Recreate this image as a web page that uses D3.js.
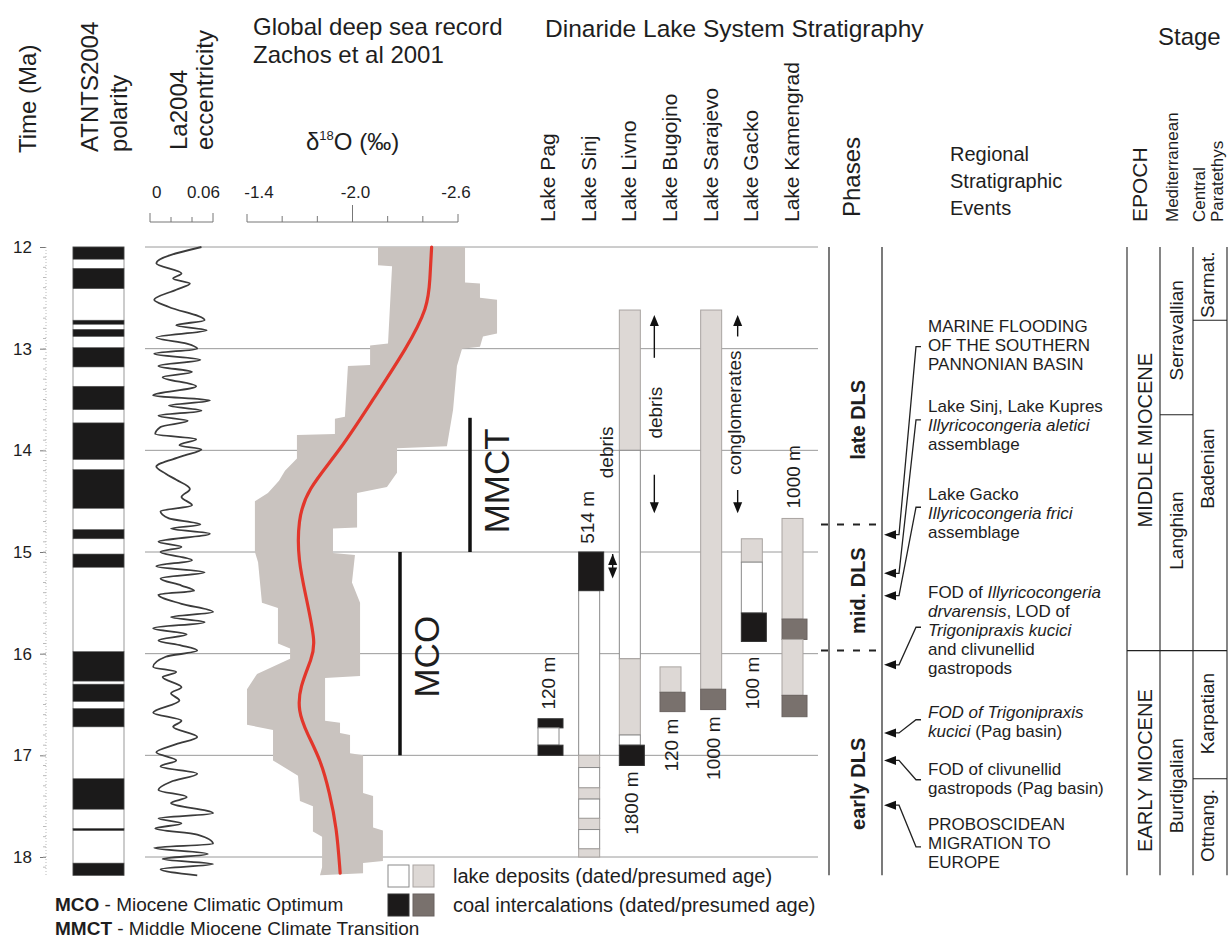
<!DOCTYPE html>
<html lang="en">
<head>
<meta charset="UTF-8">
<title>Dinaride Lake System stratigraphy</title>
<script src="https://cdnjs.cloudflare.com/ajax/libs/d3/7.8.5/d3.min.js"></script>
<style>
  body { margin: 0; background: #fff; }
  svg text { font-family: "Liberation Sans", Arial, sans-serif; fill: #1e1e1e; }
</style>
</head>
<body>
<div id="chart"></div>
<script>
// ---- data ----
const ageTicks = [12, 13, 14, 15, 16, 17, 18];

// normal polarity chrons (Ma)
const normalChrons = [
  [12.00, 12.12], [12.21, 12.41], [12.72, 12.76], [12.81, 12.88], [12.99, 13.18],
  [13.37, 13.60], [13.73, 14.09], [14.19, 14.57], [14.78, 14.87], [15.02, 15.15],
  [15.98, 16.27], [16.30, 16.47], [16.54, 16.72], [17.23, 17.53], [17.72, 17.74],
  [18.06, 18.18]
];

// La2004 eccentricity (age, ecc)
const eccentricity = [
  [12.00, 0.049], [12.16, 0.006], [12.26, 0.030], [12.31, 0.022], [12.36, 0.038], [12.42, 0.025],
  [12.52, 0.004], [12.59, 0.018], [12.72, 0.052], [12.77, 0.025], [12.82, 0.054], [12.89, 0.006],
  [12.95, 0.035], [13.00, 0.045], [13.05, 0.004], [13.11, 0.048], [13.17, 0.008], [13.23, 0.040],
  [13.28, 0.012], [13.37, 0.044], [13.46, 0.003], [13.51, 0.057], [13.56, 0.018], [13.61, 0.049],
  [13.66, 0.008], [13.71, 0.036], [13.77, 0.010], [13.84, 0.005], [13.89, 0.044], [13.95, 0.028],
  [13.99, 0.049], [14.06, 0.030], [14.16, 0.006], [14.23, 0.015], [14.29, 0.025], [14.38, 0.038],
  [14.46, 0.030], [14.54, 0.040], [14.60, 0.010], [14.67, 0.018], [14.73, 0.048], [14.77, 0.020],
  [14.82, 0.057], [14.90, 0.008], [14.95, 0.030], [15.00, 0.010], [15.08, 0.040], [15.14, 0.006],
  [15.20, 0.052], [15.26, 0.010], [15.33, 0.030], [15.38, 0.042], [15.42, 0.008], [15.51, 0.030],
  [15.59, 0.060], [15.64, 0.020], [15.69, 0.052], [15.75, 0.003], [15.81, 0.035], [15.87, 0.008],
  [15.92, 0.030], [15.97, 0.045], [16.03, 0.015], [16.13, 0.003], [16.18, 0.025], [16.23, 0.012],
  [16.33, 0.030], [16.39, 0.020], [16.46, 0.028], [16.58, 0.003], [16.66, 0.030], [16.72, 0.022],
  [16.82, 0.045], [16.89, 0.025], [16.97, 0.006], [17.05, 0.025], [17.11, 0.010], [17.18, 0.045],
  [17.26, 0.020], [17.34, 0.008], [17.41, 0.035], [17.47, 0.020], [17.57, 0.060], [17.62, 0.008],
  [17.67, 0.030], [17.72, 0.005], [17.78, 0.045], [17.87, 0.060], [17.91, 0.004], [17.97, 0.055],
  [18.02, 0.012], [18.07, 0.060], [18.12, 0.010], [18.18, 0.045]
];
const eccTicks = [0, 0.02, 0.04, 0.06];

// Zachos et al 2001 d18O
const d18OTicks = [-1.4, -1.6, -1.8, -2.0, -2.2, -2.4, -2.6];
const d18OTickLabels = ["-1.4", "-2.0", "-2.6"];
const d18OMean = [
  [12.00, -2.45], [12.32, -2.44], [12.59, -2.43], [12.99, -2.31], [13.49, -2.12], [14.00, -1.93],
  [14.39, -1.74], [14.69, -1.69], [15.08, -1.69], [15.47, -1.74], [15.90, -1.79], [16.04, -1.77],
  [16.33, -1.70], [16.56, -1.69], [16.78, -1.74], [17.05, -1.82], [17.37, -1.87], [17.71, -1.91],
  [18.16, -1.93]
];
const d18OEnvLeft = [
  [12.00, -2.145], [12.18, -2.145], [12.19, -2.225], [12.95, -2.202], [12.97, -2.100], [13.16, -2.100],
  [13.17, -1.974], [13.67, -1.957], [13.69, -1.900], [13.84, -1.900], [13.85, -1.684], [14.08, -1.684],
  [14.20, -1.616], [14.30, -1.582], [14.42, -1.519], [14.50, -1.445], [15.00, -1.445], [15.10, -1.463],
  [15.50, -1.485], [15.55, -1.576], [15.90, -1.576], [15.95, -1.645], [16.05, -1.645], [16.20, -1.457],
  [16.35, -1.400], [16.70, -1.400], [16.75, -1.548], [17.05, -1.548], [17.20, -1.690], [17.45, -1.701],
  [17.50, -1.775], [17.75, -1.775], [17.80, -1.827], [18.10, -1.827], [18.18, -1.815]
];
const d18OEnvRight = [
  [12.00, -2.640], [12.35, -2.640], [12.36, -2.725], [12.50, -2.725], [12.52, -2.822], [12.85, -2.822],
  [12.88, -2.742], [12.98, -2.725], [13.00, -2.623], [13.17, -2.594], [13.60, -2.572], [13.96, -2.537],
  [13.98, -2.253], [14.22, -2.253], [14.36, -2.196], [14.42, -2.026], [14.76, -2.026], [14.77, -1.889],
  [15.01, -1.889], [15.03, -2.014], [15.30, -1.997], [15.50, -2.043], [16.22, -2.043], [16.24, -1.844],
  [16.66, -1.844], [16.68, -1.929], [16.78, -1.929], [16.80, -1.986], [16.98, -1.986], [17.00, -2.060],
  [17.37, -2.060], [17.40, -2.117], [17.71, -2.117], [17.74, -2.173], [18.04, -2.173], [18.06, -2.060],
  [18.16, -2.060]
];
const climateEvents = [
  { name: "MMCT", from: 13.68, to: 15.0, labelAge: 14.3 },
  { name: "MCO", from: 15.0, to: 17.0, labelAge: 16.03 }
];

// Dinaride lakes
const lakes = ["Lake Pag", "Lake Sinj", "Lake Livno", "Lake Bugojno", "Lake Sarajevo", "Lake Gacko", "Lake Kamengrad"];
// type: dated / presumed lake deposits, coal / coalP (dated / presumed coal)
const lakeSegments = [
  ["Lake Pag", 16.64, 16.73, "coal"], ["Lake Pag", 16.73, 16.90, "dated"], ["Lake Pag", 16.90, 17.00, "coal"],
  ["Lake Sinj", 15.38, 17.00, "dated"], ["Lake Sinj", 17.00, 17.12, "presumed"], ["Lake Sinj", 17.12, 17.32, "dated"],
  ["Lake Sinj", 17.32, 17.43, "presumed"], ["Lake Sinj", 17.43, 17.62, "dated"], ["Lake Sinj", 17.62, 17.73, "presumed"],
  ["Lake Sinj", 17.73, 17.92, "dated"], ["Lake Sinj", 17.92, 18.00, "presumed"], ["Lake Sinj", 15.00, 15.38, "coal"],
  ["Lake Livno", 12.62, 14.00, "presumed"], ["Lake Livno", 14.00, 16.05, "dated"], ["Lake Livno", 16.05, 16.80, "presumed"],
  ["Lake Livno", 16.80, 16.90, "dated"], ["Lake Livno", 16.90, 17.10, "coal"],
  ["Lake Bugojno", 16.13, 16.38, "presumed"], ["Lake Bugojno", 16.38, 16.57, "coalP"],
  ["Lake Sarajevo", 12.62, 16.35, "presumed"], ["Lake Sarajevo", 16.35, 16.55, "coalP"],
  ["Lake Gacko", 14.87, 15.10, "presumed"], ["Lake Gacko", 15.10, 15.60, "dated"], ["Lake Gacko", 15.60, 15.88, "coal"],
  ["Lake Kamengrad", 14.67, 15.66, "presumed"], ["Lake Kamengrad", 15.66, 15.86, "coalP"],
  ["Lake Kamengrad", 15.86, 16.41, "presumed"], ["Lake Kamengrad", 16.41, 16.62, "coalP"]
];
const lakeNotes = [
  ["Lake Pag", "120 m", 16.29], ["Lake Sinj", "514 m", 14.66], ["Lake Sinj", "debris", 14.02],
  ["Lake Livno", "1800 m", 17.47], ["Lake Livno", "debris", 13.63], ["Lake Bugojno", "120 m", 16.90],
  ["Lake Sarajevo", "1000 m", 16.93], ["Lake Sarajevo", "conglomerates", 13.63],
  ["Lake Gacko", "100 m", 16.29], ["Lake Kamengrad", "1000 m", 14.26]
];
const lakeArrows = [
  ["Lake Livno", 13.09, 12.67], ["Lake Livno", 14.24, 14.62],
  ["Lake Sarajevo", 12.88, 12.67], ["Lake Sarajevo", 14.39, 14.62]
];

// phases and events
const phases = [
  { name: "late DLS", from: 12.0, to: 14.73, labelAge: 13.70 },
  { name: "mid. DLS", from: 14.73, to: 15.97, labelAge: 15.38 },
  { name: "early DLS", from: 15.97, to: 18.18, labelAge: 17.28 }
];
const events = [
  { age: 14.83, tick: 12.98, textAge: 12.84, lines: [[["MARINE FLOODING"]], [["OF THE SOUTHERN"]], [["PANNONIAN BASIN"]]] },
  { age: 15.21, tick: 13.70, textAge: 13.62, lines: [[["Lake Sinj, Lake Kupres"]], [["Illyricocongeria aletici", 1]], [["assemblage"]]] },
  { age: 15.43, tick: 14.56, textAge: 14.49, lines: [[["Lake Gacko"]], [["Illyricocongeria frici", 1]], [["assemblage"]]] },
  { age: 16.11, tick: 15.74, textAge: 15.45, lines: [[["FOD of "], ["Illyricocongeria", 1]], [["drvarensis", 1], [", LOD of"]], [["Trigonipraxis kucici", 1]], [["and clivunellid"]], [["gastropods"]]] },
  { age: 16.78, tick: 16.65, textAge: 16.63, lines: [[["FOD of Trigonipraxis", 1]], [["kucici", 1], [" (Pag basin)"]]] },
  { age: 17.05, tick: 17.24, textAge: 17.19, lines: [[["FOD of clivunellid"]], [["gastropods (Pag basin)"]]] },
  { age: 17.49, tick: 17.90, textAge: 17.73, lines: [[["PROBOSCIDEAN"]], [["MIGRATION TO"]], [["EUROPE"]]] }
];

// stages
const epochs = [
  { name: "MIDDLE MIOCENE", from: 12.0, to: 15.97, labelAge: 13.90 },
  { name: "EARLY MIOCENE", from: 15.97, to: 18.18, labelAge: 17.15 }
];
const medStages = [
  { name: "Serravallian", from: 12.0, to: 13.65, labelAge: 12.82 },
  { name: "Langhian", from: 13.65, to: 15.97, labelAge: 14.79 },
  { name: "Burdigalian", from: 15.97, to: 18.18, labelAge: 17.30 }
];
const paraStages = [
  { name: "Sarmat.", from: 12.0, to: 12.72, labelAge: 12.37 },
  { name: "Badenian", from: 12.72, to: 15.97, labelAge: 14.18 },
  { name: "Karpatian", from: 15.97, to: 17.23, labelAge: 16.59 },
  { name: "Ottnang.", from: 17.23, to: 18.18, labelAge: 17.69 }
];

// ---- drawing ----
let draw = () => {
  let svg = d3.select("#chart").append("svg")
    .attr("width", 1231)
    .attr("height", 938);

  const ageEnd = 18.18;
  const y = d3.scaleLinear().domain([12, 18]).range([247, 857]);
  const xEcc = d3.scaleLinear().domain([0, 0.06]).range([150, 213]);
  const xO = d3.scaleLinear().domain([-1.4, -2.6]).range([247, 458]);
  const xLake = d3.scalePoint().domain(lakes).range([538, 782]);

  const rotText = (g, x, yy, txt, size, anchor) => g.append("text")
    .attr("transform", "translate(" + x + "," + yy + ") rotate(-90)")
    .attr("text-anchor", anchor || "start")
    .attr("font-size", size)
    .text(txt);

  // headers
  let head = svg.append("g");
  rotText(head, 36, 153, "Time (Ma)", 24);
  rotText(head, 98, 152, "ATNTS2004", 24);
  rotText(head, 127, 152, "polarity", 24);
  rotText(head, 187, 150, "La2004", 24);
  rotText(head, 213, 150, "eccentricity", 24);
  head.append("text").attr("x", 253).attr("y", 35).attr("font-size", 24).text("Global deep sea record");
  head.append("text").attr("x", 253).attr("y", 63).attr("font-size", 24).text("Zachos et al 2001");
  let dt = head.append("text").attr("x", 306).attr("y", 150).attr("font-size", 24);
  dt.append("tspan").text("δ");
  dt.append("tspan").attr("font-size", 13).attr("dy", -10).text("18");
  dt.append("tspan").attr("dy", 10).text("O (‰)");
  head.append("text").attr("x", 545).attr("y", 37).attr("font-size", 24.5).text("Dinaride Lake System Stratigraphy");
  lakes.forEach(l => rotText(head, xLake(l) + 17, 222, l, 21));
  rotText(head, 860, 217, "Phases", 24);
  ["Regional", "Stratigraphic", "Events"].forEach((t, i) =>
    head.append("text").attr("x", 950).attr("y", 161 + i * 27).attr("font-size", 20).text(t));
  head.append("text").attr("x", 1158).attr("y", 45).attr("font-size", 24).text("Stage");
  rotText(head, 1147, 222, "EPOCH", 21);
  rotText(head, 1178, 222, "Mediterranean", 17);
  rotText(head, 1205, 222, "Central", 17);
  rotText(head, 1223, 222, "Paratethys", 17);

  // time axis
  let ga = svg.append("g").attr("transform", "translate(46,0)")
    .call(d3.axisLeft(y).tickValues(ageTicks).tickSize(6).tickSizeOuter(0).tickPadding(8).tickFormat(d3.format("d")));
  ga.select(".domain").remove();
  ga.selectAll(".tick line").attr("stroke", "#777");
  ga.selectAll(".tick text").attr("font-size", 17).attr("font-family", "Liberation Sans, Arial, sans-serif").attr("fill", "#1e1e1e");
  ga.append("line").attr("y1", y(12)).attr("y2", y(ageEnd)).attr("stroke", "#bbb").attr("stroke-dasharray", "1,2");
  ga.selectAll(".minor").data(d3.range(121, 182).map(d => d / 10)).enter().append("line")
    .attr("x1", -3).attr("x2", 0).attr("y1", d => y(d)).attr("y2", d => y(d)).attr("stroke", "#bbb");

  // eccentricity and d18O axes (top)
  let gx = svg.append("g").attr("stroke", "#777").attr("fill", "none");
  gx.append("line").attr("x1", xEcc(0)).attr("x2", xEcc(0.06)).attr("y1", 222).attr("y2", 222);
  eccTicks.forEach((t, i) => gx.append("line").attr("x1", xEcc(t)).attr("x2", xEcc(t))
    .attr("y1", (i === 0 || i === eccTicks.length - 1) ? 213 : 217).attr("y2", 222));
  gx.append("line").attr("x1", xO(-1.4)).attr("x2", xO(-2.6)).attr("y1", 222).attr("y2", 222);
  d18OTicks.forEach(t => gx.append("line").attr("x1", xO(t)).attr("x2", xO(t))
    .attr("y1", t === -2.0 ? 205 : (t === -1.4 || t === -2.6 ? 214 : 216)).attr("y2", 222));
  let lab = svg.append("g");
  lab.append("text").attr("x", xEcc(0) + 2).attr("y", 198).attr("font-size", 17).text("0");
  lab.append("text").attr("x", xEcc(0.06) + 7).attr("y", 198).attr("font-size", 17).attr("text-anchor", "end").text("0.06");
  d18OTickLabels.forEach((s, i) =>
    lab.append("text").attr("x", xO(+s) + [12, 3, -2][i]).attr("y", 198).attr("font-size", 17).attr("text-anchor", "middle").text(s));

  // gridlines
  svg.append("g").selectAll("line").data(ageTicks).enter().append("line")
    .attr("x1", 145).attr("x2", 818).attr("y1", d => y(d)).attr("y2", d => y(d))
    .attr("stroke", "#9a9a9a").attr("stroke-width", 1);

  // polarity
  let gp = svg.append("g");
  gp.append("rect").attr("x", 73).attr("y", y(12)).attr("width", 51).attr("height", y(ageEnd) - y(12))
    .attr("fill", "#fff").attr("stroke", "#999");
  gp.selectAll(".chron").data(normalChrons).enter().append("rect")
    .attr("x", 73).attr("width", 51).attr("y", d => y(d[0])).attr("height", d => y(d[1]) - y(d[0]))
    .attr("fill", "#1b1a1a").attr("stroke", "#555").attr("stroke-width", 0.6);

  // eccentricity
  svg.append("path").datum(eccentricity)
    .attr("d", d3.line().x(d => xEcc(d[1])).y(d => y(d[0])).curve(d3.curveMonotoneY))
    .attr("fill", "none").attr("stroke", "#3b3b3b").attr("stroke-width", 1.8);

  // d18O envelope and mean
  const env = d18OEnvLeft.concat(d18OEnvRight.slice().reverse());
  svg.append("path")
    .attr("d", d3.line().x(d => xO(d[1])).y(d => y(d[0]))(env) + "Z")
    .attr("fill", "#c9c3bf");
  svg.append("path").datum(d18OMean)
    .attr("d", d3.line().x(d => xO(d[1])).y(d => y(d[0])).curve(d3.curveBasis))
    .attr("fill", "none").attr("stroke", "#e2362b").attr("stroke-width", 3.2).attr("stroke-linecap", "round");

  // MCO / MMCT
  const ceX = { MCO: 400, MMCT: 470 };
  climateEvents.forEach(c => {
    svg.append("line").attr("x1", ceX[c.name]).attr("x2", ceX[c.name]).attr("y1", y(c.from)).attr("y2", y(c.to))
      .attr("stroke", "#111").attr("stroke-width", 3.5);
    rotText(svg, ceX[c.name] + 39, y(c.labelAge), c.name, 35, "middle");
  });

  // lake columns
  const fillOf = { dated: "#ffffff", presumed: "#ddd8d5", coal: "#1c1a1a", coalP: "#79716d" };
  const strokeOf = { dated: "#8a8a8a", presumed: "#a9a4a1", coal: "#333", coalP: "#6a6360" };
  let gl = svg.append("g");
  gl.selectAll("rect").data(lakeSegments).enter().append("rect")
    .attr("x", d => xLake(d[0]))
    .attr("width", d => (d[3] === "coal" || d[3] === "coalP") ? 25 : 21)
    .attr("y", d => y(d[1])).attr("height", d => y(d[2]) - y(d[1]))
    .attr("fill", d => fillOf[d[3]]).attr("stroke", d => strokeOf[d[3]]).attr("stroke-width", 1);
  const noteDx = { "120 m": 17, "514 m": 15, "1800 m": 19, "1000 m": 19, "100 m": 18, "debris": 34, "conglomerates": 40 };
  lakeNotes.forEach(([l, t, a]) => {
    let dx = noteDx[t];
    if (l === "Lake Livno" && t === "debris") dx = 43;
    if (l === "Lake Bugojno" || l === "Lake Kamengrad") dx = 18;
    rotText(gl, xLake(l) + dx, y(a), t, 19, "middle");
  });
  const arrowDx = { "Lake Livno": 35, "Lake Sarajevo": 37 };
  const vArrow = (x, a0, a1, both) => {
    const y0 = y(a0), y1 = y(a1), s = y1 > y0 ? 1 : -1;
    gl.append("line").attr("x1", x).attr("x2", x).attr("y1", y0).attr("y2", y1 - s * 9).attr("stroke", "#111").attr("stroke-width", 1.4);
    gl.append("path").attr("d", "M" + (x - 4.5) + "," + (y1 - s * 11) + "L" + (x + 4.5) + "," + (y1 - s * 11) + "L" + x + "," + y1 + "Z").attr("fill", "#111");
    if (both) gl.append("path").attr("d", "M" + (x - 4.5) + "," + (y0 + s * 11) + "L" + (x + 4.5) + "," + (y0 + s * 11) + "L" + x + "," + y0 + "Z").attr("fill", "#111");
  };
  lakeArrows.forEach(([l, a0, a1]) => vArrow(xLake(l) + arrowDx[l], a0, a1));
  vArrow(xLake("Lake Sinj") + 34, 15.02, 15.26, true);

  // phases column
  let gph = svg.append("g");
  [829, 882].forEach(x => gph.append("line").attr("x1", x).attr("x2", x).attr("y1", y(12)).attr("y2", y(ageEnd)).attr("stroke", "#222").attr("stroke-width", 1.2));
  phases.slice(1).forEach(p => gph.append("line").attr("x1", 821).attr("x2", 882).attr("y1", y(p.from)).attr("y2", y(p.from))
    .attr("stroke", "#222").attr("stroke-width", 2).attr("stroke-dasharray", "7,9"));
  phases.forEach(p => rotText(gph, 865, y(p.labelAge), p.name, 20, "middle").attr("font-weight", "bold"));

  // events
  let gev = svg.append("g");
  events.forEach(ev => {
    const y0 = y(ev.textAge);
    ev.lines.forEach((segs, i) => {
      let t = gev.append("text").attr("x", 928).attr("y", y0 + i * 19).attr("font-size", 17);
      segs.forEach(s => t.append("tspan").attr("font-style", s[1] ? "italic" : null).text(s[0]));
    });
    const yt = y(ev.age), yk = y(ev.tick);
    gev.append("path").attr("d", "M894," + yt + "L899," + yt + "L916," + yk + "L921," + yk)
      .attr("fill", "none").attr("stroke", "#222").attr("stroke-width", 1.3);
    gev.append("path").attr("d", "M884," + yt + "L896," + (yt - 4.5) + "L896," + (yt + 4.5) + "Z").attr("fill", "#111");
  });

  // stage columns
  let gs = svg.append("g");
  [1127, 1160, 1193, 1227].forEach(x => gs.append("line").attr("x1", x).attr("x2", x).attr("y1", y(12)).attr("y2", y(ageEnd)).attr("stroke", "#222").attr("stroke-width", 1.1));
  const stageCol = (list, x0, x1, lx, size) => {
    list.slice(1).forEach(s => gs.append("line").attr("x1", x0).attr("x2", x1).attr("y1", y(s.from)).attr("y2", y(s.from)).attr("stroke", "#222").attr("stroke-width", 1.1));
    list.forEach(s => rotText(gs, lx, y(s.labelAge), s.name, size, "middle"));
  };
  stageCol(epochs, 1127, 1160, 1152, 20);
  stageCol(medStages, 1160, 1193, 1183, 19);
  stageCol(paraStages, 1193, 1227, 1214, 19);

  // legend
  let lg = svg.append("g");
  [[388, 865, "dated"], [413, 865, "presumed"], [388, 894, "coal"], [413, 894, "coalP"]].forEach(([x, yy, k]) =>
    lg.append("rect").attr("x", x).attr("y", yy).attr("width", 21).attr("height", 22).attr("fill", fillOf[k]).attr("stroke", strokeOf[k]));
  lg.append("text").attr("x", 453).attr("y", 883).attr("font-size", 20).text("lake deposits (dated/presumed age)");
  lg.append("text").attr("x", 453).attr("y", 912).attr("font-size", 20).text("coal intercalations (dated/presumed age)");
  [["MCO", " - Miocene Climatic Optimum", 911], ["MMCT", " - Middle Miocene Climate Transition", 935]].forEach(([b, r, yy]) => {
    let t = lg.append("text").attr("x", 55).attr("y", yy).attr("font-size", 19);
    t.append("tspan").attr("font-weight", "bold").text(b);
    t.append("tspan").text(r);
  });
};
draw();
</script>
</body>
</html>
